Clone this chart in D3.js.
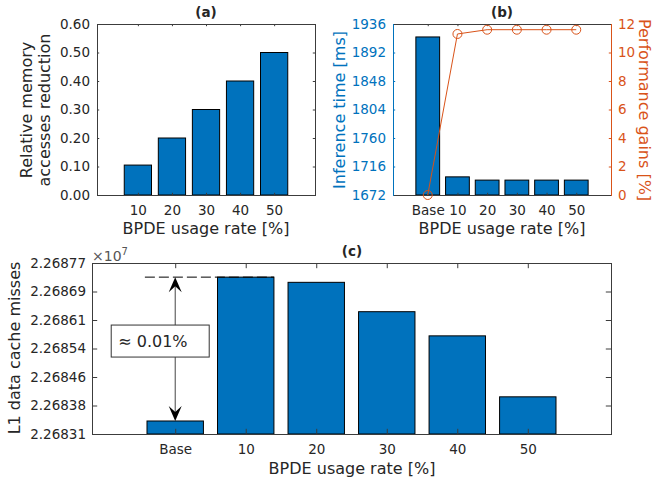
<!DOCTYPE html>
<html>
<head>
<meta charset="utf-8">
<script src="https://cdn.jsdelivr.net/npm/d3@7"></script>
<style>
  body { margin: 0; background: #fff; }
  svg text { font-family: "DejaVu Sans", sans-serif; }
</style>
</head>
<body>
<div id="chart"></div>
<script>
// data
const catsA = ["10", "20", "30", "40", "50"];
const memReduction = [0.105, 0.2, 0.3, 0.4, 0.5];
const ticksA = [0, 0.1, 0.2, 0.3, 0.4, 0.5, 0.6];

const catsB = ["Base", "10", "20", "30", "40", "50"];
const inferenceMs = [1916, 1700, 1695, 1695, 1695, 1695];
const perfGain = [0, 11.3, 11.6, 11.6, 11.6, 11.6];
const ticksBLeft = [1672, 1716, 1760, 1804, 1848, 1892, 1936];
const ticksBRight = [0, 2, 4, 6, 8, 10, 12];

const catsC = ["Base", "10", "20", "30", "40", "50"];
const l1Misses = [2.268345, 2.268732, 2.268718, 2.268639, 2.268574, 2.26841]; // x 1e7
const ticksCLabels = ["2.26831", "2.26838", "2.26846", "2.26854", "2.26861", "2.26869", "2.26877"];

const W = 654, H = 480;
const txt = "#262626", axc = "#3c3c3c";
const blue = "#0072BD", orange = "#D95319";
const fs = 13.5, lfs = 16;

const svg = d3.select("#chart").append("svg")
  .attr("width", W).attr("height", H);

// draws bottom / top category ticks, pointing inward
function boxAxes(x, y, n, cats, tl) {
  const [y1, y0] = y.range();
  const g = svg.append("g");
  const idx = d3.range(1, n + 1);
  g.append("g").attr("transform", `translate(0,${y1})`)
    .call(d3.axisBottom(x).tickValues(idx).tickFormat(i => cats[i - 1])
      .tickSizeInner(-tl).tickSizeOuter(0).tickPadding(10))
    .call(a => a.select(".domain").remove());
  g.append("g").attr("transform", `translate(0,${y0})`)
    .call(d3.axisTop(x).tickValues(idx).tickFormat("").tickSizeInner(-tl).tickSizeOuter(0))
    .call(a => a.select(".domain").remove());
  g.selectAll(".tick line").attr("stroke", axc);
  g.selectAll(".tick text").attr("fill", txt).style("font-size", fs + "px");
  return g;
}

function bars(x, y, vals) {
  svg.append("g").selectAll("rect").data(vals).join("rect")
    .attr("x", (d, i) => x(i + 1 - 0.4))
    .attr("width", x(1.4) - x(0.6))
    .attr("y", d => y(d))
    .attr("height", d => y.range()[0] - y(d))
    .attr("fill", blue).attr("stroke", "#000").attr("stroke-width", 1);
}

function yAxis(y, x0, side, ticks, fmt, col, tl, pad) {
  const ax = side === "left" ? d3.axisLeft(y) : d3.axisRight(y);
  const g = svg.append("g").attr("transform", `translate(${x0},0)`)
    .call(ax.tickValues(ticks).tickFormat(fmt).tickSizeInner(-tl).tickSizeOuter(0).tickPadding(pad));
  g.select(".domain").remove();
  g.selectAll(".tick line").attr("stroke", col);
  g.selectAll(".tick text").attr("fill", col === axc ? txt : col).style("font-size", fs + "px");
  return g;
}

function frame(x, y, cols) {
  const [x0, x1] = x.range(), [y1, y0] = y.range();
  const c = cols || {};
  const ln = (a, b, cc, d, col) => svg.append("line")
    .attr("x1", a).attr("y1", b).attr("x2", cc).attr("y2", d)
    .attr("stroke", col).attr("stroke-width", 1);
  ln(x0, y0 + 0.5, x1, y0 + 0.5, axc);
  ln(x0, y1 + 0.5, x1, y1 + 0.5, axc);
  ln(x0 + 0.5, y0, x0 + 0.5, y1 + 1, c.left || axc);
  ln(x1 + 0.5, y0, x1 + 0.5, y1 + 1, c.right || axc);
}

function label(x, y, s, opts) {
  const o = opts || {};
  const t = svg.append("text")
    .attr("text-anchor", o.anchor || "middle")
    .attr("fill", o.fill || txt)
    .style("font-size", (o.size || lfs) + "px")
    .style("font-weight", o.bold ? "bold" : "normal")
    .text(s);
  if (o.rot) t.attr("transform", `translate(${x},${y}) rotate(${o.rot})`);
  else t.attr("x", x).attr("y", y);
  return t;
}

// ---------- (a) ----------
const xA = d3.scaleLinear().domain([1 - 1.2, catsA.length + 1.2]).range([97, 315]);
const yA = d3.scaleLinear().domain([0, 0.6]).range([195, 24]);
bars(xA, yA, memReduction);
boxAxes(xA, yA, catsA.length, catsA, 2.2);
yAxis(yA, 97, "left", ticksA, d => d.toFixed(2), axc, 2.2, 7);
yAxis(yA, 315, "right", ticksA, "", axc, 2.2, 7);
frame(xA, yA);
label(206, 17, "(a)", { bold: true, size: 13.5 });
label(206, 234, "BPDE usage rate [%]");
label(32, 110, "Relative memory", { rot: -90 });
label(50, 110, "accesses reduction", { rot: -90 });

// ---------- (b) ----------
const xB = d3.scaleLinear().domain([1 - 1.17, catsB.length + 1.17]).range([393, 611]);
const yB = d3.scaleLinear().domain([1672, 1936]).range([195, 24]);
const yB2 = d3.scaleLinear().domain([0, 12]).range([195, 24]);
bars(xB, yB, inferenceMs);
boxAxes(xB, yB, catsB.length, catsB, 2.2);
yAxis(yB, 393, "left", ticksBLeft, d => d, blue, 2.2, 7);
yAxis(yB2, 611, "right", ticksBRight, d => d, orange, 2.2, 7);
frame(xB, yB, { left: blue, right: orange });
svg.append("path").datum(perfGain)
  .attr("d", d3.line().x((d, i) => xB(i + 1)).y(d => yB2(d)))
  .attr("fill", "none").attr("stroke", orange).attr("stroke-width", 1);
svg.append("g").selectAll("circle").data(perfGain).join("circle")
  .attr("cx", (d, i) => xB(i + 1)).attr("cy", d => yB2(d)).attr("r", 4.5)
  .attr("fill", "none").attr("stroke", orange).attr("stroke-width", 1);
label(502, 17, "(b)", { bold: true, size: 13.5 });
label(502, 234, "BPDE usage rate [%]");
label(345, 110, "Inference time [ms]", { rot: -90, fill: blue });
label(639, 110, "Performance gains [%]", { rot: 90, fill: orange });

// ---------- (c) ----------
const xC = d3.scaleLinear().domain([1 - 1.18, catsC.length + 1.18]).range([92, 611]);
const yC = d3.scaleLinear().domain([2.26831, 2.26877]).range([434, 263]);
const ticksC = d3.range(ticksCLabels.length).map(i => 2.26831 + i * (2.26877 - 2.26831) / (ticksCLabels.length - 1));
bars(xC, yC, l1Misses);
boxAxes(xC, yC, catsC.length, catsC, 5.2);
yAxis(yC, 92, "left", ticksC, (d, i) => ticksCLabels[i], axc, 5.2, 6);
yAxis(yC, 611, "right", ticksC, "", axc, 5.2, 6);
frame(xC, yC);
label(352, 256, "(c)", { bold: true, size: 13.5 });
label(352, 474, "BPDE usage rate [%]");
label(20, 348, "L1 data cache misses", { rot: -90 });
const mult = label(92, 261, "\u00d710", { anchor: "start", size: 14, fill: "#555" });
mult.append("tspan").attr("dy", -6).style("font-size", "10px").text("7");

// annotation: difference between Base and 10
const yTop = yC(l1Misses[1]), yBot = yC(l1Misses[0]), xa = xC(1);
svg.append("line")
  .attr("x1", xC(1 - 0.43)).attr("x2", xC(2 + 0.4))
  .attr("y1", yTop).attr("y2", yTop)
  .attr("stroke", "#000").attr("stroke-width", 1).attr("stroke-dasharray", "10,4");
svg.append("line")
  .attr("x1", xa).attr("x2", xa).attr("y1", yTop + 8).attr("y2", yBot - 8)
  .attr("stroke", "#444").attr("stroke-width", 1);
const head = (tipY, dir) => {
  const L = 15 * dir, w = 6.5;
  return `M${xa},${tipY} L${xa + w},${tipY + L} L${xa},${tipY + L * 0.6} L${xa - w},${tipY + L} Z`;
};
svg.append("path").attr("d", head(yTop, 1)).attr("fill", "#000");
svg.append("path").attr("d", head(yBot, -1)).attr("fill", "#000");
const boxY = (yTop + yBot) / 2 - 8;
svg.append("rect")
  .attr("x", xa - 64).attr("y", boxY - 16).attr("width", 98).attr("height", 32)
  .attr("fill", "#fff").attr("stroke", "#333").attr("stroke-width", 1);
label(xa - 57, boxY + 6, "\u2248 0.01%", { anchor: "start", size: 16 });
</script>
</body>
</html>
